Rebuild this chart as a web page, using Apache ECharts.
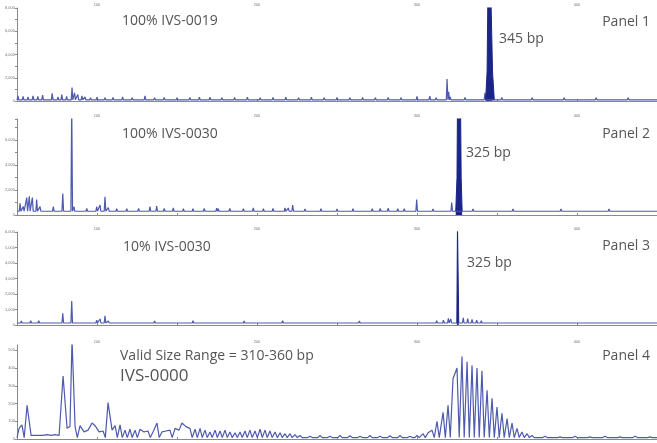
<!DOCTYPE html>
<html>
<head>
<meta charset="utf-8">
<script src="https://cdn.jsdelivr.net/npm/echarts@6/dist/echarts.min.js"></script>
<style>
  html, body { margin: 0; padding: 0; background: #fff; }
  #chart { width: 657px; height: 443px; }
</style>
</head>
<body>
<div id="chart"></div>
<script>
// x axis: fragment size in bp
var xTicks = [100, 200, 300, 400];

// Panel 1 - 100% IVS-0019 (peak position bp, height RFU)
var p1Pos = [50.6, 53.8, 56.9, 60, 63, 66, 72, 75.6, 78, 81, 84.4, 86, 88, 90.6, 92.5, 96, 100, 105, 110, 116, 122, 130, 136, 142, 150, 158, 164, 170.6, 178, 186, 194, 202, 210, 218, 226, 234, 242, 250, 258, 266, 274, 282, 290, 300, 308, 312, 318.8, 319.8, 320.8, 330, 342.5, 353, 362, 372, 382, 392, 402, 412, 422, 432, 442];
var p1Hgt = [450, 400, 350, 450, 400, 500, 650, 350, 550, 400, 1150, 700, 550, 450, 350, 280, 320, 280, 300, 350, 280, 450, 280, 300, 280, 300, 320, 330, 280, 300, 320, 280, 300, 320, 280, 320, 280, 300, 280, 300, 280, 300, 280, 400, 420, 280, 1900, 800, 350, 300, 700, 300, 260, 280, 260, 280, 260, 280, 260, 280, 260];
var p1MainX = [342.9, 343.8, 344.3, 346.2, 347.2, 348.3];
var p1MainY = [100, 2500, 9000, 9000, 2500, 100];

// Panel 2 - 100% IVS-0030
var p2Pos = [51.9, 53.9, 56.1, 57.7, 59.6, 62.3, 64.4, 72.7, 78.6, 84.2, 85.6, 93.6, 99.8, 101.9, 105, 107.1, 112.3, 118.6, 126, 133.1, 137.3, 142, 147.7, 154, 160, 167, 174.8, 175.8, 183, 191.5, 197.7, 204, 210, 217.5, 219.6, 222.3, 230, 240, 250, 260, 272, 277, 282, 288, 292, 299.8, 310, 321.7, 335, 345, 360, 375, 390, 405, 420, 435];
var p2Hgt = [930, 670, 1400, 1500, 1400, 1250, 670, 670, 1730, 9000, 670, 530, 670, 800, 1470, 600, 500, 500, 520, 670, 720, 520, 560, 500, 500, 520, 550, 500, 520, 500, 560, 500, 520, 560, 560, 800, 480, 500, 480, 500, 500, 520, 550, 500, 500, 1250, 480, 1000, 480, 460, 480, 460, 480, 460, 480, 460];
var p2MainX = [324.2, 325.0, 325.3, 327.2, 327.6, 328.2];
var p2MainY = [300, 3000, 9000, 9000, 3000, 300];

// Panel 3 - 10% IVS-0030
var p3Pos = [52.7, 55.5, 58.6, 61.1, 63.6, 66.1, 72.7, 78.6, 84.2, 93.6, 99.8, 101.9, 105, 107.1, 113, 120, 128, 136, 144, 152, 160, 168, 176, 184, 192, 200, 208, 216, 224, 232, 240, 248, 256, 264, 272, 280, 288, 296, 306.1, 312.3, 316.5, 319.6, 321.1, 328.9, 331.7, 334.4, 337.3, 340.2, 343.1, 346.1, 349, 355, 365, 375, 385, 395, 405, 415, 425, 435, 445];
var p3Hgt = [260, 230, 280, 250, 270, 230, 230, 750, 1550, 200, 320, 390, 600, 260, 230, 250, 230, 260, 230, 250, 280, 230, 250, 230, 260, 230, 250, 280, 230, 250, 230, 250, 230, 260, 230, 230, 250, 230, 250, 280, 320, 430, 390, 460, 420, 360, 320, 280, 230, 200, 180, 170, 160, 170, 160, 170, 160, 170, 160, 170, 160];
var p3MainX = [324.9, 325.3, 325.6, 326.1];
var p3MainY = [130, 6500, 6500, 130];

// Panel 4 - IVS-0000, valid size range 310-360 bp
var p4Pos = [51.3, 53.1, 56.3, 58.8, 61.3, 63.8, 66.3, 68.8, 71.3, 73.8, 76.3, 78.8, 81.3, 83.1, 84.4, 86.3, 89.4, 91.9, 94.4, 96.9, 98.8, 101.3, 103.8, 106.9, 109.4, 111.3, 114.4, 117.5, 120.6, 123.8, 126.9, 129.4, 131.9, 135, 137.5, 140.6, 143.1, 145.6, 148.8, 151.3, 153.1, 155.6, 158.1, 161.3, 164.4, 167.5, 170.6, 173.8, 176.9, 180, 183.1, 186.3, 189.4, 192.5, 195.6, 198.8, 201.9, 205, 208.1, 211.3, 214.4, 217.5, 220.6, 223.8, 226.9, 233.1, 239.4, 245.6, 251.9, 258.1, 264.4, 270.6, 276.9, 283.1, 289.4, 295.6, 300, 303.8, 306.9, 309.4, 312.5, 316.3, 319.4, 322.5, 325, 328.1, 331.3, 334.4, 337.5, 340.6, 343.8, 346.9, 350, 353.1, 356.3, 359.4, 362.5, 365.6, 368.8, 371.9, 380, 389.4, 398.8, 408, 417.5, 426.9, 436.3, 445.6];
var p4Hgt = [60, 80, 190, 20, 20, 20, 20, 25, 20, 25, 20, 355, 60, 70, 560, 70, 75, 40, 50, 90, 75, 40, 45, 205, 50, 75, 80, 50, 55, 50, 55, 40, 45, 40, 90, 40, 45, 50, 60, 50, 90, 70, 60, 55, 60, 50, 40, 50, 45, 50, 40, 35, 40, 45, 50, 45, 55, 50, 45, 40, 35, 30, 30, 25, 20, 15, 20, 15, 20, 18, 15, 20, 15, 18, 20, 15, 20, 30, 35, 50, 100, 150, 190, 340, 400, 465, 435, 415, 400, 385, 275, 230, 180, 145, 115, 90, 60, 40, 30, 20, 15, 12, 15, 12, 15, 12, 15, 12];

var yMax = [8000, 7700, 6000, 530];
var yStep = [2000, 2000, 1000, 100];
var yMinor = [2, 2, 1, 1];
var baseLevel = [100, 300, 130, 8];
var halfWidth = [0.5, 0.5, 0.5, 1.4];

var traceColor = '#4d5aae';
var mainColor = '#1b2487';
var textColor = '#555';

// peak list -> polyline with feet on the baseline
function trace(pos, hgt, base, w) {
  var pts = [[50, base]];
  for (var i = 0; i < pos.length; i++) {
    var l = pos[i] - w, r = pos[i] + w;
    var prevR = i > 0 ? pos[i - 1] + w : -Infinity;
    var nextL = i < pos.length - 1 ? pos[i + 1] - w : Infinity;
    if (l >= prevR) pts.push([l, base]);
    pts.push([pos[i], hgt[i]]);
    if (r <= nextL) pts.push([r, base]);
  }
  pts.push([450, base]);
  return pts;
}

function pairs(xs, ys) {
  return xs.map(function (x, i) { return [x, ys[i]]; });
}

var grids = [
  { left: 17, right: 0, top: 8, height: 93, outerBoundsMode: 'none', containLabel: false },
  { left: 17, right: 0, top: 119, height: 96, outerBoundsMode: 'none', containLabel: false },
  { left: 17, right: 0, top: 232, height: 93, outerBoundsMode: 'none', containLabel: false },
  { left: 17, right: 0, top: 345, height: 94, outerBoundsMode: 'none', containLabel: false }
];

var traces = [
  trace(p1Pos, p1Hgt, baseLevel[0], halfWidth[0]),
  trace(p2Pos, p2Hgt, baseLevel[1], halfWidth[1]),
  trace(p3Pos, p3Hgt, baseLevel[2], halfWidth[2]),
  trace(p4Pos, p4Hgt, baseLevel[3], halfWidth[3])
];
var mains = [pairs(p1MainX, p1MainY), pairs(p2MainX, p2MainY), pairs(p3MainX, p3MainY), null];

var xAxes = [], yAxes = [], series = [];
for (var i = 0; i < 4; i++) {
  xAxes.push({
    type: 'value', gridIndex: i, position: 'top',
    min: 50, max: 450, interval: 50,
    axisLine: { show: true, lineStyle: { color: '#8a8a8a', width: 1 } },
    axisTick: { show: true, length: 2, lineStyle: { color: '#8a8a8a' } },
    axisLabel: {
      fontSize: 4, color: '#777', margin: 1,
      formatter: function (v) { return xTicks.indexOf(v) >= 0 ? String(v) : ''; }
    },
    splitLine: { show: false }
  });
  yAxes.push({
    type: 'value', gridIndex: i,
    min: 0, max: yMax[i], interval: yStep[i],
    axisLine: { show: true, lineStyle: { color: '#8a8a8a', width: 1 } },
    axisTick: { show: true, length: 2, lineStyle: { color: '#8a8a8a' } },
    minorTick: { show: yMinor[i] > 1, splitNumber: yMinor[i], length: 2, lineStyle: { color: '#8a8a8a' } },
    axisLabel: { fontSize: 4, color: '#777', margin: 2, showMaxLabel: yMax[i] % yStep[i] === 0 },
    splitLine: { show: false }
  });
  series.push({
    type: 'line', xAxisIndex: i, yAxisIndex: i,
    data: traces[i], showSymbol: false, animation: false,
    lineStyle: { color: traceColor, width: 1.2 }
  });
  if (mains[i]) {
    series.push({
      type: 'line', xAxisIndex: i, yAxisIndex: i,
      data: mains[i], showSymbol: false, animation: false,
      lineStyle: { color: mainColor, width: 1 },
      areaStyle: { color: mainColor, opacity: 1 }
    });
  }
}

function label(text, x, y, size, align) {
  return {
    type: 'text', x: x, y: y, silent: true,
    style: {
      text: text, fill: textColor, align: align || 'left', verticalAlign: 'middle',
      font: size + 'px "Open Sans", sans-serif'
    }
  };
}

var chart = echarts.init(document.getElementById('chart'));
chart.setOption({
  animation: false,
  backgroundColor: '#fff',
  grid: grids,
  xAxis: xAxes,
  yAxis: yAxes,
  series: series,
  graphic: [
    label('100% IVS-0019', 122, 21, 14),
    label('Panel 1', 650, 22, 14, 'right'),
    label('345 bp', 499, 39, 14),
    label('100% IVS-0030', 122, 134, 14),
    label('Panel 2', 650, 134, 14, 'right'),
    label('325 bp', 466, 153, 14),
    label('10% IVS-0030', 123, 247, 14),
    label('Panel 3', 650, 246, 14, 'right'),
    label('325 bp', 467, 263, 14),
    label('Valid Size Range = 310-360 bp', 120, 356, 14),
    label('IVS-0000', 120, 376, 17),
    label('Panel 4', 650, 356, 14, 'right')
  ]
});
</script>
</body>
</html>
